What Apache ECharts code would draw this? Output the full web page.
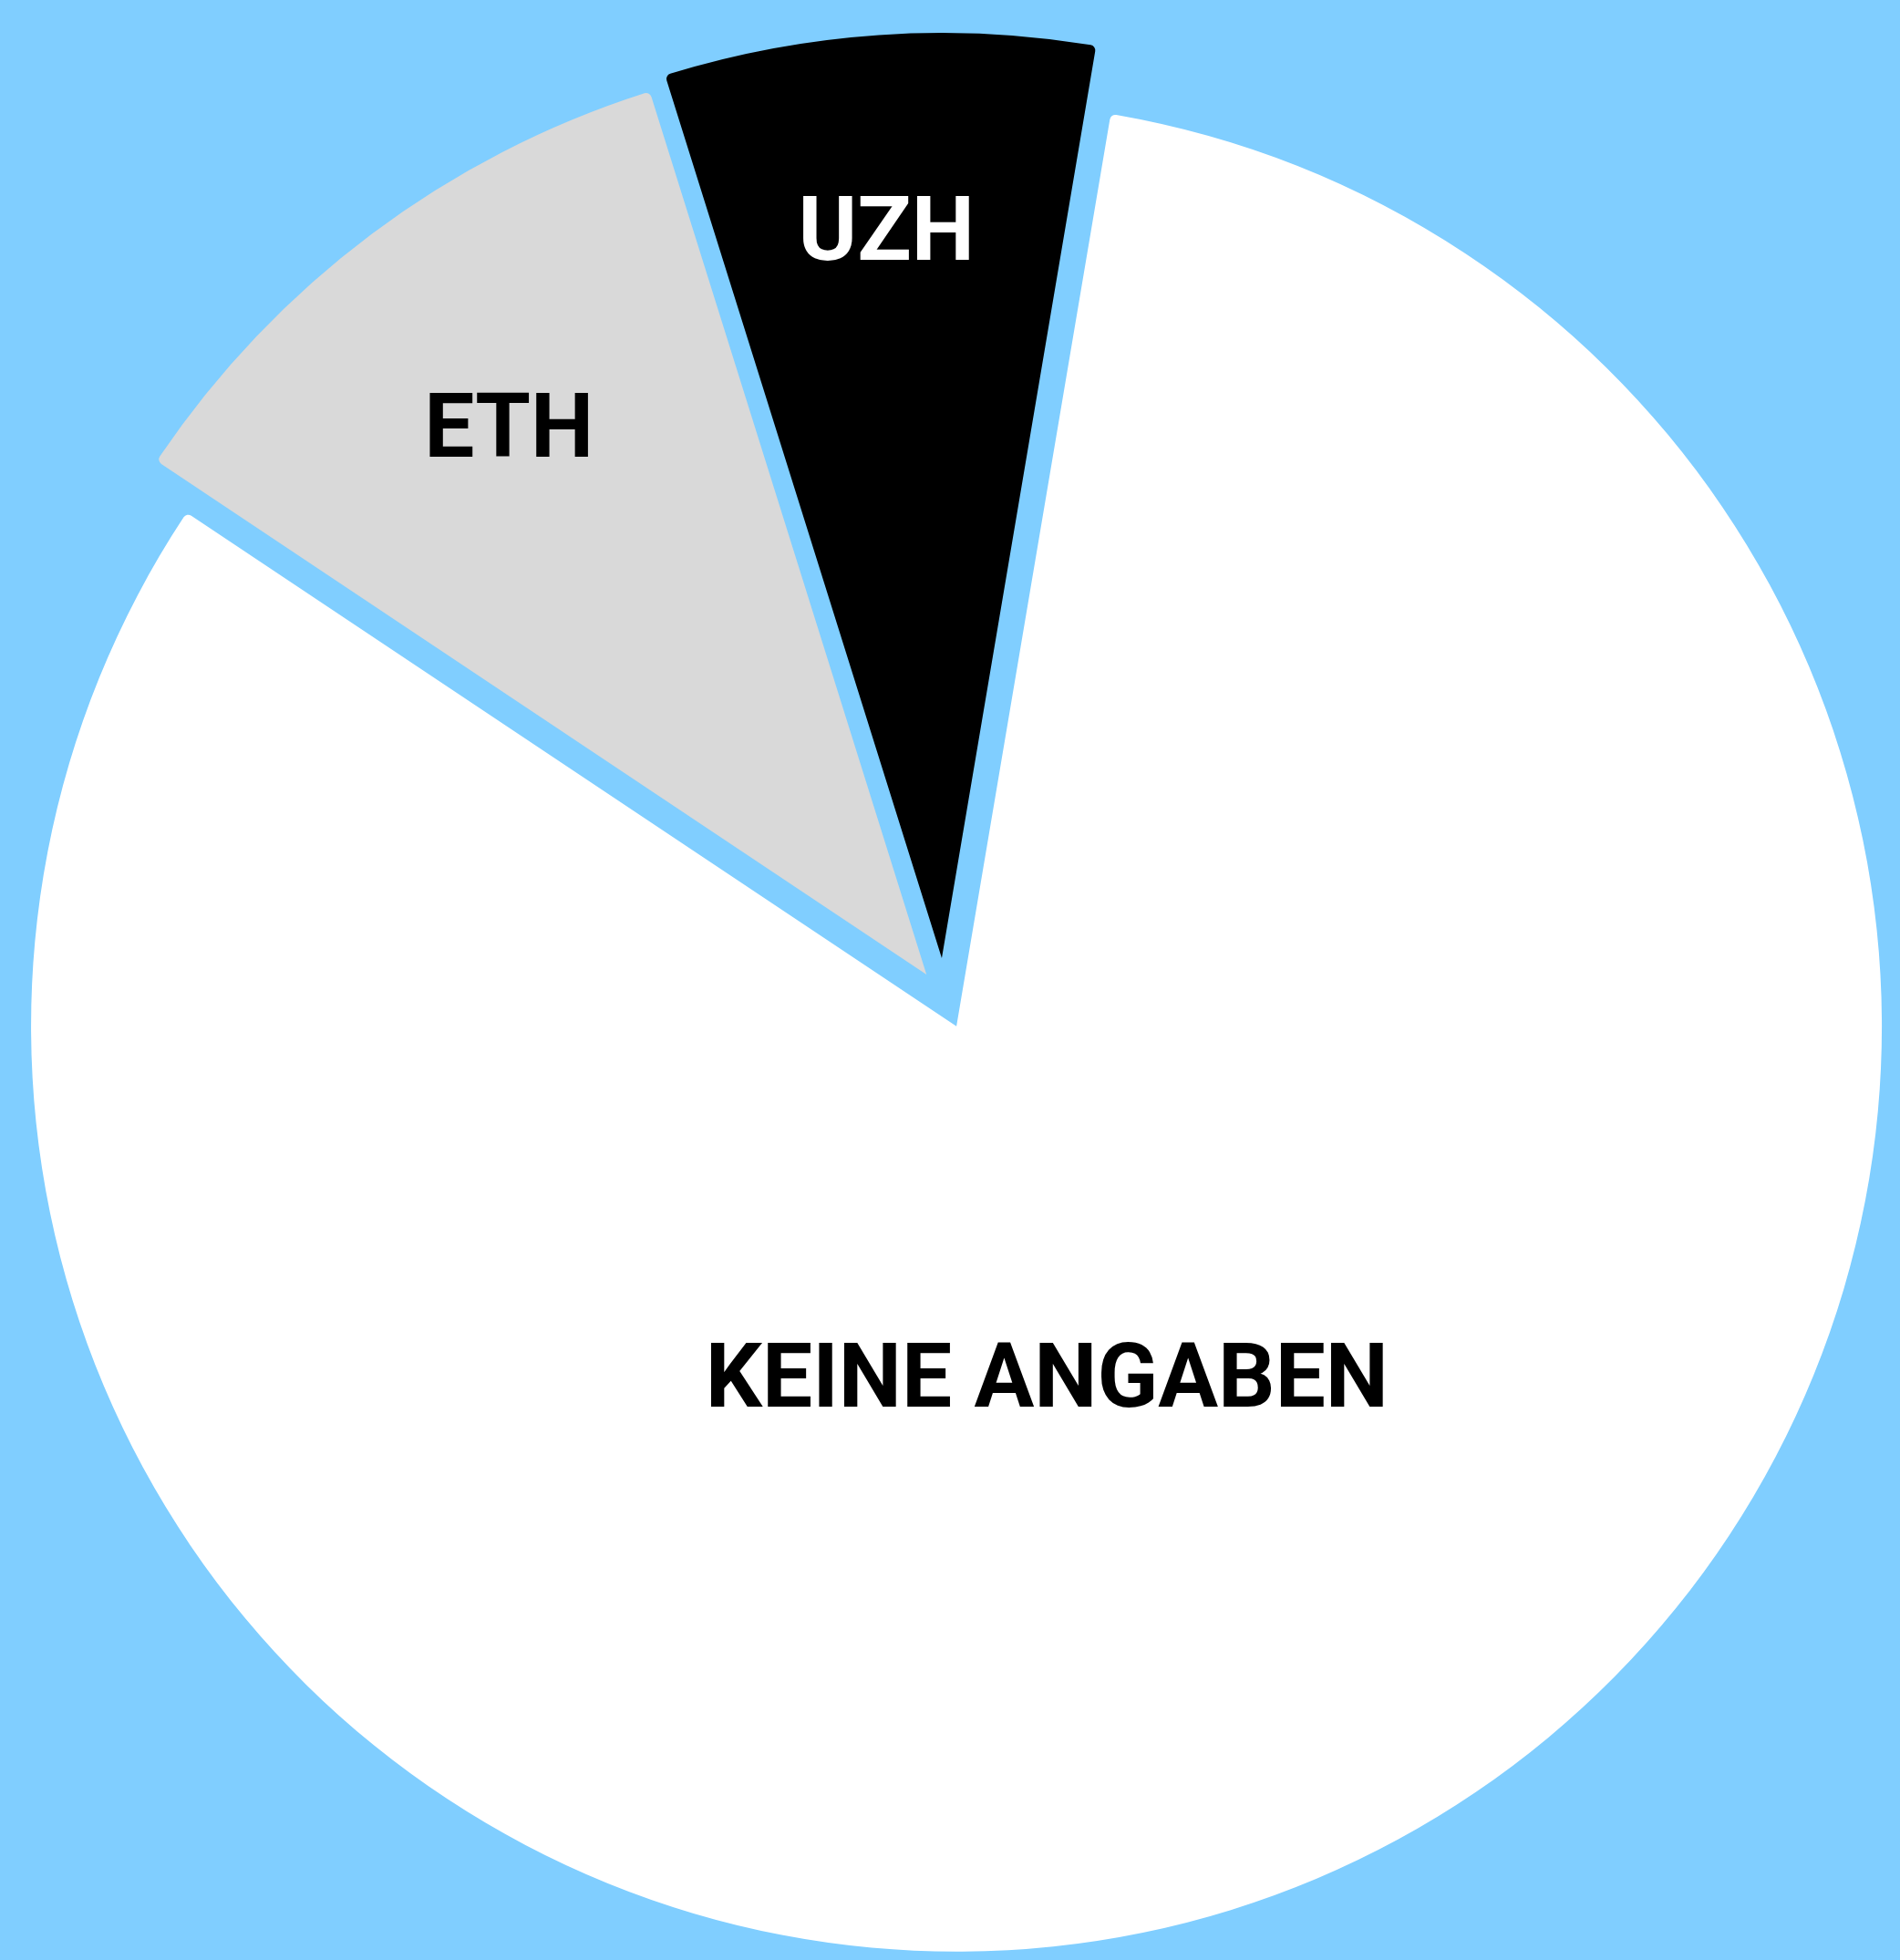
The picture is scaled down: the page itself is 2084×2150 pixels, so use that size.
<!DOCTYPE html>
<html>
<head>
<meta charset="utf-8">
<script src="https://cdn.jsdelivr.net/npm/echarts@6/dist/echarts.min.js"></script>
<style>
  html, body { margin: 0; padding: 0; background: #80CEFF; }
  #chart { width: 2084px; height: 2150px; }
</style>
</head>
<body>
<div id="chart"></div>
<script>
// Data (share of answers, %)
const categories = ['UZH', 'ETH', 'KEINE ANGABEN'];
const values = [7.5, 10.8, 81.7];

// Styles
const sliceColors = ['#000000', '#D9D9D9', '#FFFFFF'];
const labelColors = ['#FFFFFF', '#000000', '#000000'];
const labelNudge = [[-26, -281], [-152, -184], [-103, -76]];
// which slices each layer shows (UZH is pulled out a bit further than the others)
const layers = [
  { offset: 33, show: [false, true, true] },
  { offset: 44.5, show: [true, false, false] }
];

const chart = echarts.init(document.getElementById('chart'), null, { renderer: 'canvas' });

function makeSeries(layer) {
  return {
    type: 'pie',
    center: [1036, 1095.5],
    radius: [0, 1015],
    startAngle: 80.4,
    clockwise: false,
    selectedMode: 'multiple',
    selectedOffset: layer.offset,
    avoidLabelOverlap: false,
    emphasis: { disabled: true },
    itemStyle: { borderRadius: 6, borderWidth: 0 },
    label: {
      show: true,
      position: 'inside',
      formatter: '{b}',
      fontFamily: 'Roboto',
      fontWeight: 'bold',
      fontSize: 98,
      align: 'center',
      verticalAlign: 'middle'
    },
    labelLine: { show: false },
    labelLayout: function (p) {
      const n = labelNudge[p.dataIndex];
      return { dx: n[0], dy: n[1] };
    },
    data: categories.map(function (c, i) {
      const vis = layer.show[i];
      const col = vis ? sliceColors[i] : 'rgba(0,0,0,0)';
      return {
        name: c,
        value: values[i],
        selected: true,
        itemStyle: { color: col },
        label: { show: vis, color: labelColors[i] },
        select: { itemStyle: { color: col }, label: { show: vis, color: labelColors[i] } }
      };
    })
  };
}

chart.setOption({
  backgroundColor: '#80CEFF',
  animation: false,
  series: layers.map(makeSeries)
});
</script>
</body>
</html>
